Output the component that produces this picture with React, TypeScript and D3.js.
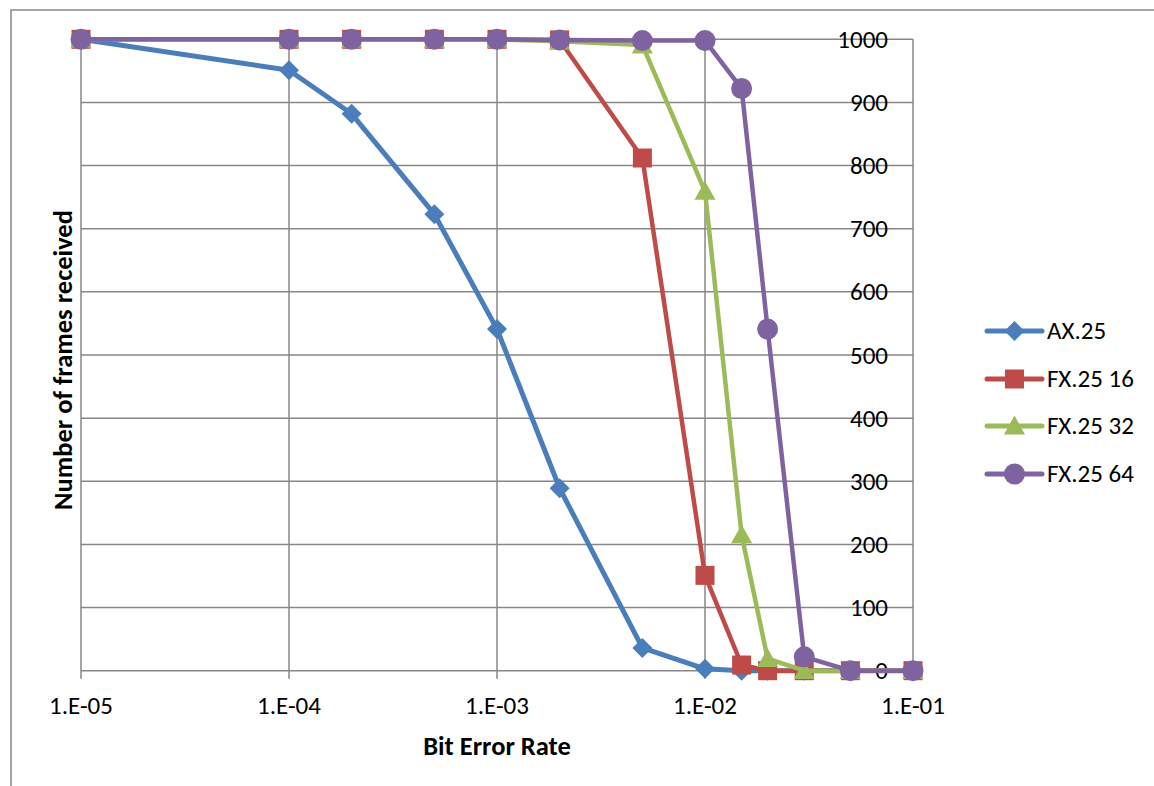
import React from "react";
import * as d3 from "d3";

const berValues = [1e-5, 1e-4, 2e-4, 5e-4, 1e-3, 2e-3, 5e-3, 1e-2, 1.5e-2, 2e-2, 3e-2, 5e-2, 1e-1];
const ax25 = [1000, 951, 882, 723, 541, 289, 36, 3, 0, 0, 0, 0, 0];
const fx16 = [1000, 1000, 1000, 1000, 1000, 999, 812, 151, 9, 0, 0, 0, 0];
const fx32 = [1000, 1000, 1000, 1000, 1000, 997, 991, 759, 215, 19, 0, 0, 0];
const fx64 = [1000, 1000, 1000, 1000, 1000, 999, 998, 998, 922, 541, 22, 0, 0];
const seriesNames = ["AX.25", "FX.25 16", "FX.25 32", "FX.25 64"];
const seriesColors = ["#4A7EBB", "#BE4B48", "#9BBB59", "#7F63A1"];
const seriesMarkers = ["diamond", "square", "triangle", "circle"];
const xTickValues = [1e-5, 1e-4, 1e-3, 1e-2, 1e-1];
const xTickLabels = ["1.E-05", "1.E-04", "1.E-03", "1.E-02", "1.E-01"];
const yTickValues = [0, 100, 200, 300, 400, 500, 600, 700, 800, 900, 1000];

const FONT = "Carlito, Lato, 'Open Sans', sans-serif";
const GRID = "#878787";

function Marker({ kind, x, y, color }: { kind: string; x: number; y: number; color: string }) {
  if (kind === "diamond") {
    const s = 10;
    return <path d={`M${x},${y - s}L${x + s},${y}L${x},${y + s}L${x - s},${y}Z`} fill={color} />;
  }
  if (kind === "square") {
    const s = 9.5;
    return <rect x={x - s} y={y - s} width={2 * s} height={2 * s} fill={color} />;
  }
  if (kind === "triangle") {
    const s = 10.5;
    return <path d={`M${x},${y - s}L${x + s},${y + s * 0.8}L${x - s},${y + s * 0.8}Z`} fill={color} />;
  }
  return <circle cx={x} cy={y} r={10.5} fill={color} />;
}

export default function App() {
  const W = 1154, H = 786;
  const x = d3.scaleLog().domain([1e-5, 1e-1]).range([81, 913]);
  const y = d3.scaleLinear().domain([0, 1000]).range([670.7, 39.3]);
  const allSeries = [ax25, fx16, fx32, fx64];
  const line = d3.line<number>().x((_, i) => x(berValues[i])).y((d) => y(d));
  const legendX = 987, legendRows = [331, 379, 426, 474];

  return (
    <svg width={W} height={H} style={{ position: "fixed", left: 0, top: 0, background: "#fff" }} fontFamily={FONT}>
      <rect x={11} y={10} width={W + 20} height={H + 20} fill="#fff" stroke={GRID} strokeWidth={1.5} />
      {/* gridlines */}
      {yTickValues.map((v) => (
        <line key={"h" + v} x1={x(1e-5)} x2={x(1e-1)} y1={y(v)} y2={y(v)} stroke={GRID} strokeWidth={1.5} />
      ))}
      {xTickValues.map((v) => (
        <line key={"v" + v} x1={x(v)} x2={x(v)} y1={y(1000)} y2={y(0) + 8} stroke={GRID} strokeWidth={1.5} />
      ))}
      {/* y labels */}
      {yTickValues.map((v) => (
        <text key={"yl" + v} x={888} y={y(v) + 8.5} textAnchor="end" fontSize={25} fill="#000">
          {v}
        </text>
      ))}
      {/* x labels */}
      {xTickValues.map((v, i) => (
        <text key={"xl" + v} x={x(v)} y={714} textAnchor="middle" fontSize={25} fill="#000">
          {xTickLabels[i]}
        </text>
      ))}
      <text x={497} y={755} textAnchor="middle" fontSize={26.5} fontWeight="bold">
        Bit Error Rate
      </text>
      <text transform={`translate(72,360) rotate(-90)`} textAnchor="middle" fontSize={26.5} fontWeight="bold">
        Number of frames received
      </text>
      {/* series */}
      {allSeries.map((s, si) => (
        <g key={"s" + si}>
          <path d={line(s) || ""} fill="none" stroke={seriesColors[si]} strokeWidth={si === 0 ? 5 : 4.5} strokeLinejoin="round" />
          {s.map((v, i) => (
            <Marker key={i} kind={seriesMarkers[si]} x={x(berValues[i])} y={y(v)} color={seriesColors[si]} />
          ))}
        </g>
      ))}
      {/* legend */}
      {seriesNames.map((n, i) => (
        <g key={"lg" + i}>
          <line x1={legendX} x2={legendX + 55} y1={legendRows[i]} y2={legendRows[i]} stroke={seriesColors[i]} strokeWidth={5} strokeLinecap="round" />
          <Marker kind={seriesMarkers[i]} x={legendX + 27.5} y={legendRows[i]} color={seriesColors[i]} />
          <text x={legendX + 60} y={legendRows[i] + 8} fontSize={25}>
            {n}
          </text>
        </g>
      ))}
    </svg>
  );
}
